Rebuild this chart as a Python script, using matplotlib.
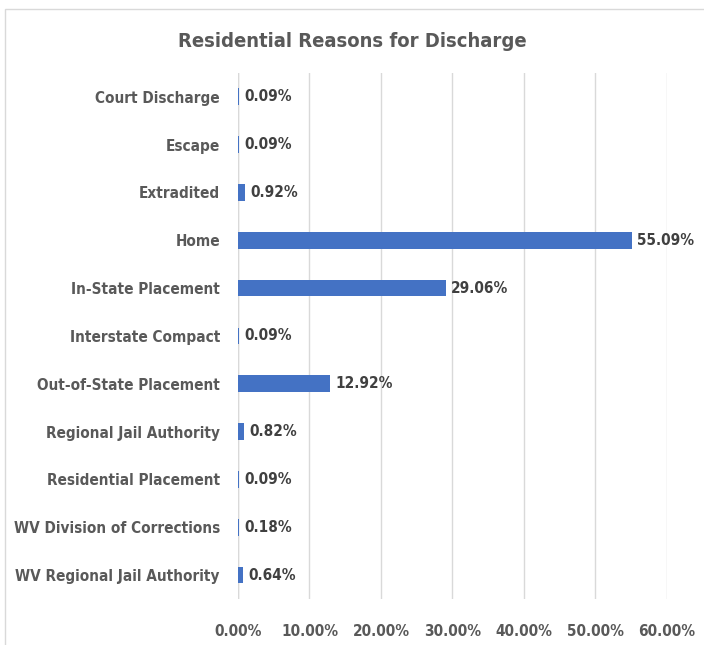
import matplotlib
matplotlib.use("Agg")
import matplotlib.pyplot as plt
from matplotlib.patches import Rectangle
from matplotlib.ticker import FuncFormatter

# condensed bold face, close to the original look
plt.rcParams['font.family'] = ['DejaVu Sans']
plt.rcParams['font.stretch'] = 'condensed'
plt.rcParams['font.weight'] = 'bold'

# data
categories = ["Court Discharge", "Escape", "Extradited", "Home", "In-State Placement",
              "Interstate Compact", "Out-of-State Placement", "Regional Jail Authority",
              "Residential Placement", "WV Division of Corrections", "WV Regional Jail Authority"]
values = [0.0009, 0.0009, 0.0092, 0.5509, 0.2906, 0.0009, 0.1292, 0.0082, 0.0009, 0.0018, 0.0064]
ticks = [0, 0.1, 0.2, 0.3, 0.4, 0.5, 0.6]

fig = plt.figure(figsize=(7.04, 6.45), dpi=100)
ax = fig.add_axes([0.338, 0.0713, 0.6094, 0.8157])

ypos = range(len(categories))
ax.barh(ypos, values, height=0.35, color='#4472C4', zorder=3)
ax.set_ylim(len(categories) - 0.5, -0.5)
ax.set_xlim(0, 0.6)
ax.set_yticks(list(ypos))
ax.set_yticklabels(categories)
ax.set_xticks(ticks)
ax.xaxis.set_major_formatter(FuncFormatter(lambda v, p: f"{v*100:.2f}%"))

# value labels
for y, v in zip(ypos, values):
    ax.annotate(f"{v*100:.2f}%", (v, y), xytext=(4, 0), textcoords='offset points',
                va='center', ha='left', fontsize=11, fontweight='bold', color='#404040')

ax.grid(axis='x', color='#D9D9D9', linewidth=1, zorder=0)
for s in ax.spines.values():
    s.set_visible(False)
ax.axvline(0, color='#D9D9D9', linewidth=1, zorder=1)
ax.tick_params(length=0, labelsize=11, colors='#595959')
ax.tick_params(axis='y', pad=13)
ax.tick_params(axis='x', pad=18)

fig.text(0.5, 0.935, "Residential Reasons for Discharge", ha='center', va='center',
         fontsize=14.5, fontweight='bold', color='#595959')

# chart border
fig.patches.append(Rectangle((5/704, -0.01), 1.0, 1 - 9/645 + 0.01, transform=fig.transFigure,
                             fill=False, edgecolor='#D9D9D9', linewidth=1))

fig.savefig("out.png", dpi=100)
